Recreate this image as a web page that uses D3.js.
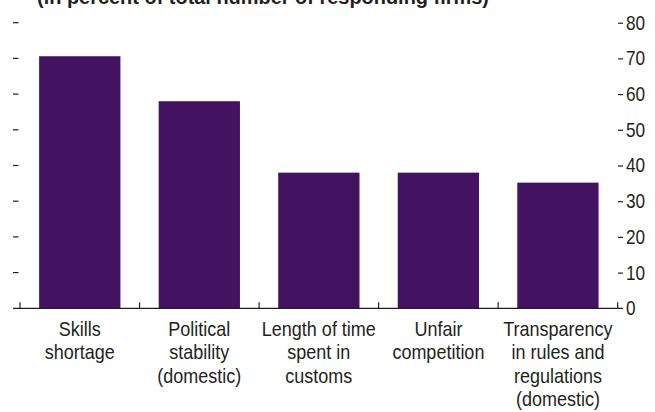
<!DOCTYPE html>
<html><head><meta charset="utf-8">
<script src="https://cdn.jsdelivr.net/npm/d3@7"></script>
<style>
body{margin:0;background:#fff;}
svg{display:block;}
text{font-family:"Liberation Sans","Arial",sans-serif;fill:#231f20;}
</style></head>
<body><svg id="c" width="655" height="412"></svg>
<script>
const title = "(in percent of total number of responding firms)";
const categories = [
  ["Skills","shortage"],
  ["Political","stability","(domestic)"],
  ["Length of time","spent in","customs"],
  ["Unfair","competition"],
  ["Transparency","in rules and","regulations","(domestic)"]
];
const values = [70.6, 58.0, 38.0, 38.0, 35.2];
const yTicks = [0,10,20,30,40,50,60,70,80];

const svg = d3.select("#c");
const x0 = 20, x1 = 617.7, yBase = 308.3, yTop = 22.7;
const x = d3.scaleBand().domain(d3.range(categories.length)).range([x0, x1]).paddingInner(0.32).paddingOuter(0.16);
const y = d3.scaleLinear().domain([0,80]).range([yBase, yTop]);
const ink = "#231f20";
const SX = 0.9;

// title (cut off at top as in the reference)
svg.append("text").attr("transform", "translate(37,4) scale(0.95,1)")
  .attr("font-size", 21).attr("font-weight", "bold").text(title);

// bars
svg.append("g").selectAll("rect").data(values).join("rect")
  .attr("x", (d,i) => x(i)).attr("width", x.bandwidth())
  .attr("y", d => y(d)).attr("height", d => yBase - y(d))
  .attr("fill", "#431260");

// baseline
svg.append("line").attr("x1", 13).attr("x2", 623).attr("y1", yBase).attr("y2", yBase)
  .attr("stroke", ink).attr("stroke-width", 1.2);

// category ticks at band boundaries
const bounds = d3.range(categories.length + 1).map(i => x0 + i * x.step());
svg.append("g").selectAll("line").data(bounds).join("line")
  .attr("x1", d => d).attr("x2", d => d).attr("y1", yBase).attr("y2", yBase - 6)
  .attr("stroke", ink).attr("stroke-width", 1.2);

// left ticks (no labels)
svg.append("g").selectAll("line").data(yTicks.filter(t => t > 0)).join("line")
  .attr("x1", 13).attr("x2", 18.5).attr("y1", d => y(d)).attr("y2", d => y(d))
  .attr("stroke", ink).attr("stroke-width", 1.2);

// right axis
const rAxis = d3.axisRight(y).tickValues(yTicks).tickSize(5).tickPadding(3);
const rg = svg.append("g").attr("transform", `translate(618,0)`).call(rAxis);
rg.select(".domain").remove();
rg.selectAll(".tick line").attr("stroke", ink).attr("stroke-width", 1.2)
  .filter(d => d === 0).remove();
rg.selectAll(".tick text").attr("font-size", 20).attr("font-family", null).attr("fill", ink)
  .attr("x", 0).attr("transform", "translate(8,0) scale(0.86,1)");

// category labels
const lab = svg.append("g").selectAll("text").data(categories).join("text")
  .attr("text-anchor", "middle").attr("font-size", 20)
  .attr("transform", (d,i) => `translate(${x(i) + x.bandwidth()/2},336) scale(${SX},1)`);
lab.selectAll("tspan").data(d => d).join("tspan")
  .attr("x", 0).attr("dy", (d,i) => i === 0 ? 0 : 23.3).text(d => d);
</script></body></html>
